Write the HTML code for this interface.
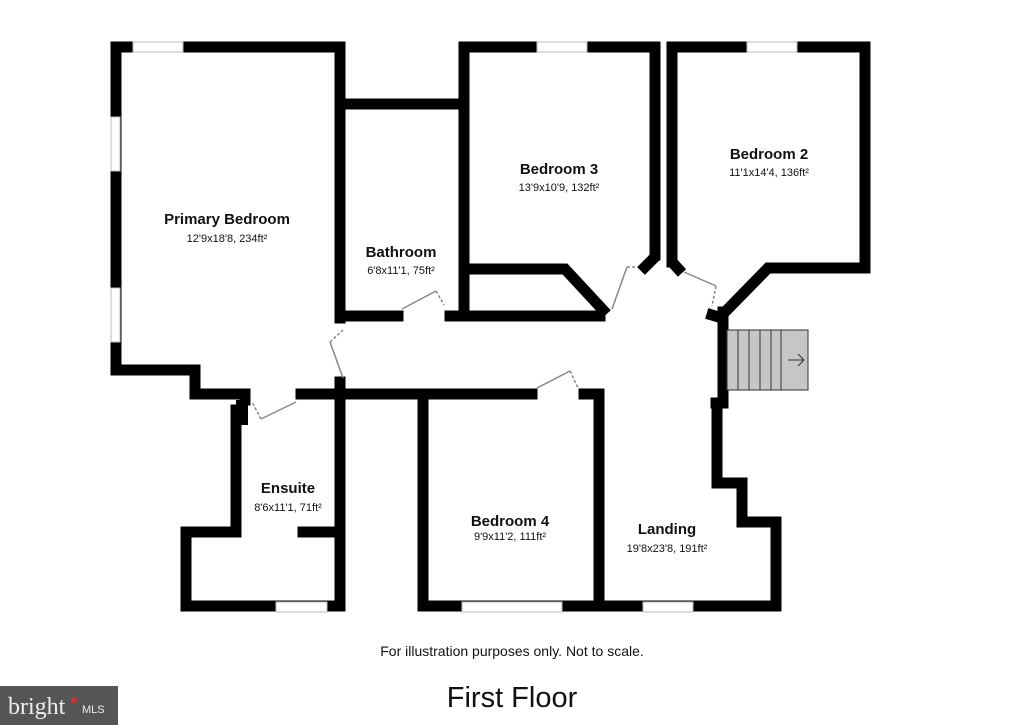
<!DOCTYPE html>
<html><head><style>body{margin:0;background:#fff}svg{display:block}</style></head><body>
<svg width="1024" height="725" viewBox="0 0 1024 725" xmlns="http://www.w3.org/2000/svg" font-family="Liberation Sans, Arial, sans-serif">
<rect width="1024" height="725" fill="#fff"/>
<g stroke="#000" stroke-width="11" stroke-linecap="square" fill="none" stroke-linejoin="miter">
<polyline points="116,47 340,47 340,318"/>
<polyline points="116,47 116,370 195,370 195,394 245,394"/>
<line x1="245" y1="394" x2="245" y2="400"/>
<line x1="340" y1="104" x2="464" y2="104"/>
<line x1="340" y1="316" x2="398" y2="316"/>
<line x1="450" y1="316" x2="600" y2="316"/>
<polyline points="464,316 464,47 655,47 655,255"/>
<polyline points="470,269 565,269 603,310"/>
<g stroke-linecap="butt"><polyline points="655,250 655,257 641,271"/>
<polyline points="672,250 672,262 682,273"/></g>
<polyline points="672,262 672,47 865,47 865,268 768,268 725,312"/>
<line x1="712" y1="315" x2="722" y2="318"/>
<polyline points="723,312 723,403"/>
<polyline points="716,403 723,403"/>
<polyline points="717,403 717,483 742,483 742,522 776,522 776,606 599,606"/>
<line x1="301" y1="394" x2="532" y2="394"/>
<line x1="584" y1="394" x2="599" y2="394"/>
<line x1="599" y1="394" x2="599" y2="606"/>
<polyline points="423,394 423,606 599,606"/>
<line x1="340" y1="382" x2="340" y2="606"/>
<polyline points="236,410 236,532 186,532 186,606 340,606"/>
<line x1="303" y1="532" x2="340" y2="532"/>
</g>
<rect x="236" y="400" width="12" height="25" fill="#000"/>
<g fill="#fff" stroke="#bbb" stroke-width="1">
<rect x="133" y="42" width="50" height="10"/>
<rect x="111" y="117" width="9" height="54"/>
<rect x="111" y="288" width="9" height="54"/>
<rect x="537" y="42" width="50" height="10"/>
<rect x="747" y="42" width="50" height="10"/>
<rect x="276" y="602" width="51" height="10"/>
<rect x="462" y="602" width="100" height="10"/>
<rect x="643" y="602" width="50" height="10"/>
</g>
<g stroke="#888" stroke-width="1.5" fill="none">
<line x1="402" y1="309" x2="436" y2="291"/><path d="M436,291 L444,305" stroke-dasharray="3,2"/>
<line x1="343" y1="378" x2="330" y2="342"/><path d="M330,342 L343,330" stroke-dasharray="3,2"/>
<line x1="296" y1="402" x2="261" y2="419"/><path d="M261,419 L252,402" stroke-dasharray="3,2"/>
<line x1="537" y1="388" x2="570" y2="371"/><path d="M570,371 L578,388" stroke-dasharray="3,2"/>
<line x1="612" y1="309" x2="627" y2="267"/><path d="M627,267 L636,267" stroke-dasharray="3,2"/>
<line x1="684" y1="272" x2="716" y2="286"/><path d="M716,286 L712,306" stroke-dasharray="3,2"/>
</g>
<rect x="727" y="330" width="81" height="60" fill="#c6c6c6" stroke="#333" stroke-width="1"/>
<g stroke="#333" stroke-width="1"><line x1="738" y1="330" x2="738" y2="390"/><line x1="749" y1="330" x2="749" y2="390"/><line x1="760" y1="330" x2="760" y2="390"/><line x1="771" y1="330" x2="771" y2="390"/><line x1="781" y1="330" x2="781" y2="390"/>
<path d="M788,360 H804 M798,354 L804,360 L798,366" fill="none"/></g>
<g text-anchor="middle" fill="#111">
<text x="227" y="224" font-size="15" font-weight="bold">Primary Bedroom</text>
<text x="227" y="242" font-size="11">12'9x18'8, 234ft²</text>
<text x="401" y="257" font-size="15" font-weight="bold">Bathroom</text>
<text x="401" y="274" font-size="11">6'8x11'1, 75ft²</text>
<text x="559" y="174" font-size="15" font-weight="bold">Bedroom 3</text>
<text x="559" y="191" font-size="11">13'9x10'9, 132ft²</text>
<text x="769" y="159" font-size="15" font-weight="bold">Bedroom 2</text>
<text x="769" y="176" font-size="11">11'1x14'4, 136ft²</text>
<text x="288" y="493" font-size="15" font-weight="bold">Ensuite</text>
<text x="288" y="511" font-size="11">8'6x11'1, 71ft²</text>
<text x="510" y="526" font-size="15" font-weight="bold">Bedroom 4</text>
<text x="510" y="540" font-size="11">9'9x11'2, 111ft²</text>
<text x="667" y="534" font-size="15" font-weight="bold">Landing</text>
<text x="667" y="552" font-size="11">19'8x23'8, 191ft²</text>
<text x="512" y="656" font-size="14">For illustration purposes only. Not to scale.</text>
<text x="512" y="707" font-size="29">First Floor</text>
</g>
<rect x="0" y="686" width="118" height="39" fill="#555"/>
<text x="8" y="714" font-size="24" font-family="Liberation Serif, serif" fill="#eee">bright</text>
<circle cx="74" cy="700" r="3" fill="#c33"/>
<text x="82" y="713" font-size="11" fill="#eee">MLS</text>
</svg>
</body></html>
